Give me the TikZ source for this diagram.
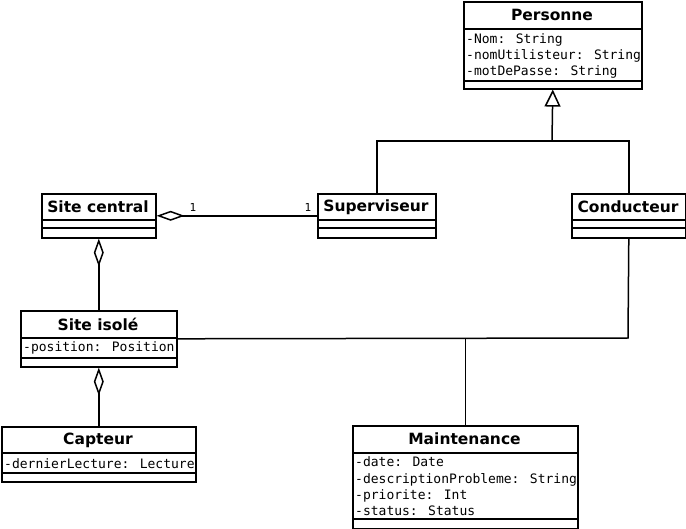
\documentclass[tikz,border=0pt]{standalone}
\usepackage{fontspec}
\newfontfamily\umltitle{DejaVu Sans}
\newfontfamily\umlmono{DejaVu Sans Mono}
\usetikzlibrary{arrows.meta}
\begin{document}
\begin{tikzpicture}[x=1pt,y=-1pt,
  cls/.style={draw, line width=1.6pt, anchor=north west, inner sep=0pt, fill=white},
  sepline/.style={line width=1.6pt},
  ctitle/.style={font=\umltitle\bfseries\fontsize{15.5}{18}\selectfont, inner sep=0pt},
  attr/.style={font=\umlmono\fontsize{13}{16}\selectfont, inner sep=0pt, anchor=base west},
  mult/.style={font=\umlmono\fontsize{11}{13}\selectfont, inner sep=0pt},
  conn/.style={line width=1.5pt},
  agg/.style={conn, {Diamond[open, length=28pt, width=10pt, line width=1.5pt]}-},
  inh/.style={conn, -{Triangle[open, length=17pt, width=16pt, line width=1.5pt]}}
]
\useasboundingbox (0,0) rectangle (686,529);

% Personne
\node[cls, minimum width=178pt, minimum height=87pt] (pers) at (463,1) {};
\draw[sepline] (463,29) -- (641,29) (463,81) -- (641,81);
\node[ctitle] (persT) at (552,15) {Personne};
\node[attr] (persA1) at (466,43.5) {-Nom: String};
\node[attr] (persA2) at (466,59.5) {-nomUtilisteur: String};
\node[attr] (persA3) at (466,75.5) {-motDePasse: String};

% Site central
\node[cls, minimum width=114pt, minimum height=44pt] (sc) at (41,193) {};
\draw[sepline] (41,220) -- (155,220) (41,228) -- (155,228);
\node[ctitle] (scT) at (98,207) {Site central};

% Superviseur
\node[cls, minimum width=118pt, minimum height=44pt] (sup) at (317,193) {};
\draw[sepline] (317,220) -- (435,220) (317,228) -- (435,228);
\node[ctitle] (supT) at (376,207) {Superviseur};

% Conducteur
\node[cls, minimum width=114pt, minimum height=44pt] (cond) at (571,193) {};
\draw[sepline] (571,220) -- (685,220) (571,228) -- (685,228);
\node[ctitle] (condT) at (628,207) {Conducteur};

% Site isole
\node[cls, minimum width=156pt, minimum height=56pt] (si) at (20,310) {};
\draw[sepline] (20,338) -- (176,338) (20,358) -- (176,358);
\node[ctitle] (siT) at (98,324) {Site isolé};
\node[attr] (siA1) at (23,352) {-position: Position};

% Capteur
\node[cls, minimum width=194pt, minimum height=55pt] (cap) at (1,426) {};
\draw[sepline] (1,453) -- (195,453) (1,473) -- (195,473);
\node[ctitle] (capT) at (98,440) {Capteur};
\node[attr] (capA1) at (4,468) {-dernierLecture: Lecture};

% Maintenance
\node[cls, minimum width=225pt, minimum height=103pt] (mnt) at (352,425) {};
\draw[sepline] (352,453) -- (577,453) (352,519) -- (577,519);
\node[ctitle] (mntT) at (464.5,439) {Maintenance};
\node[attr] (mntA1) at (355,467) {-date: Date};
\node[attr] (mntA2) at (355,483) {-descriptionProbleme: String};
\node[attr] (mntA3) at (355,499) {-priorite: Int};
\node[attr] (mntA4) at (355,515) {-status: Status};

% Inheritance
\coordinate (inhj) at (552,141);
\draw[conn] (sup.north) |- (inhj);
\draw[conn] (cond.north) |- (inhj);
\draw[inh] (inhj) -- (pers.south);

% Aggregations
\draw[agg] (sc.east) -- (sup.west);
\node[mult] (m1) at (193,207) {1};
\node[mult] (m2) at (308,207) {1};
\draw[agg] (sc.south) -- (si.north);
\draw[agg] (si.south) -- (cap.north);

% Associations
\coordinate (j2) at (628,338);
\draw[conn] (si.east) -- (j2) -- (cond.south);
\draw[conn] (mnt.north) -- (mnt.north |- j2);
\end{tikzpicture}
\end{document}
